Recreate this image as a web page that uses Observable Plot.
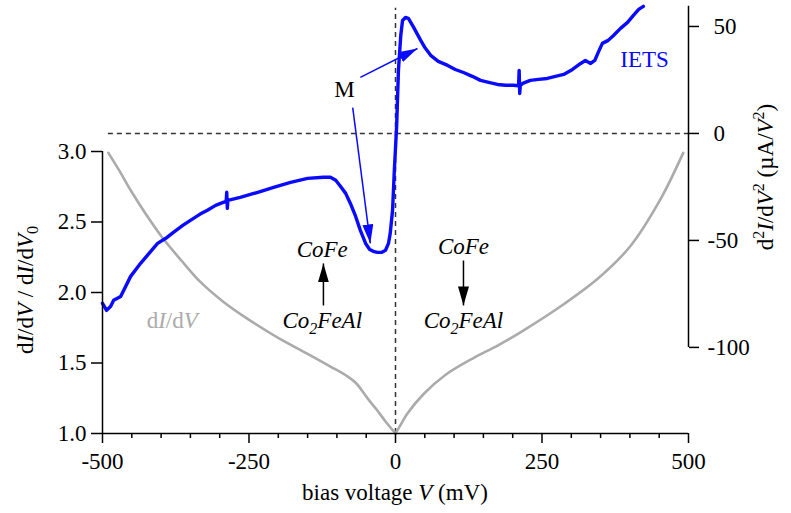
<!DOCTYPE html>
<html>
<head>
<meta charset="utf-8">
<script src="https://cdn.jsdelivr.net/npm/d3@7"></script>
<script src="https://cdn.jsdelivr.net/npm/@observablehq/plot@0.6"></script>
<style>
  body { margin: 0; background: #fff; }
  #chart svg { display: block; }
</style>
</head>
<body>
<div id="chart"></div>
<script>
// Normalised differential conductance dI/dV / dI/dV0 versus bias (mV), split at zero bias
const didvLeftV  = [-490, -470, -452, -425, -398, -365, -333, -294, -253, -201, -150, -111, -82, -68, -60, -45, -31, -17, 0];
const didvLeftG  = [2.99, 2.855, 2.725, 2.55, 2.39, 2.225, 2.075, 1.935, 1.815, 1.68, 1.565, 1.475, 1.405, 1.36, 1.32, 1.235, 1.163, 1.085, 1.0];
const didvRightV = [0, 10, 20, 48, 85, 133, 175, 218, 287, 345, 401, 452, 491];
const didvRightG = [1.0, 1.07, 1.14, 1.28, 1.415, 1.535, 1.625, 1.73, 1.917, 2.097, 2.33, 2.66, 2.99];

// IETS spectrum d²I/dV² (µA/V²) versus bias (mV)
const ietsV = [-500, -493, -486, -481, -469, -452, -435, -422, -406, -392, -379, -363, -350, -334, -321, -307, -294,
  -289, -288, -287, -286, -265, -235, -208, -179, -150, -123, -111, -102, -94, -85, -77, -68, -60, -51, -44, -38,
  -31, -24, -17, -12, -9, -5, -2, 2, 5, 9, 12, 17, 22, 31, 43, 51, 60, 73, 89, 102, 116, 131, 145, 159, 174, 188,
  201, 210, 211, 212, 213, 217, 230, 244, 259, 273, 287, 302, 316, 324, 333, 340, 346, 353, 363, 372, 384, 396,
  406, 415, 423];
const ietsR = [-79.4, -82.7, -80.8, -78.0, -76.2, -66.8, -60.7, -56.5, -51.4, -49.0, -46.2, -43.0, -40.6, -37.8, -35.9, -33.6, -32.2,
  -31.8, -27.5, -35.0, -31.3, -29.9, -27.5, -25.2, -22.9, -21.0, -20.5, -20.5, -21.9, -24.7, -28.0, -32.7, -38.8, -45.3, -51.4, -54.2, -55.1,
  -55.6, -55.6, -54.6, -51.4, -46.7, -35.9, -17.3, 3.8, 29.5, 45.8, 52.8, 54.2, 53.8, 49.6, 43.5, 39.8, 36.5, 33.7, 31.8, 29.9, 28.5, 26.7, 24.8, 23.9, 22.9, 22.5,
  22.5, 22.3, 29.5, 18.7, 22.4, 23.4, 24.8, 25.3, 25.7, 26.7, 27.6, 29.9, 32.7, 34.1, 32.7, 34.1, 37.9, 42.1, 43.5, 45.8, 49.1, 51.9,
  55.2, 58.0, 59.4];

// Tick values
const xMajorTicks = [-500, -250, 0, 250, 500];
const xMinorTicks = d3.range(-500, 501, 50).filter(v => v % 250 !== 0);
const leftTicks = [1.0, 1.5, 2.0, 2.5, 3.0];
const rightTicks = [50, 0, -50, -100];

// Right axis (µA/V²) drawn against the left scale: zero of d²I/dV² sits at 3.128 on the left axis
const rightZeroAt = 3.128;
const rightPerLeft = 65.9;
const toLeft = r => rightZeroAt + r / rightPerLeft;

const didv = [
  ...didvLeftV.map((v, i) => ({V: v, g: didvLeftG[i], side: "neg"})),
  ...didvRightV.map((v, i) => ({V: v, g: didvRightG[i], side: "pos"}))
];
const iets = ietsV.map((v, i) => ({V: v, r: ietsR[i]}));

// Arrows pointing at the IETS features (bias mV, d²I/dV² µA/V²)
const mArrows = [
  {V1: -60, r1: 26.2, V2: 37.5, r2: 39.7},
  {V1: -73, r1: 12.1, V2: -43, r2: -51.4}
];
// Magnetisation arrows (bias mV, normalised conductance)
const magArrows = [
  {V1: -123, g1: 1.908, V2: -123, g2: 2.206},
  {V1: 116, g1: 2.227, V2: 116, g2: 1.908}
];

const blue = "#0a0aff";
const grey = "#ababab";

function filledHead(color) {
  return d3.create("svg:marker")
    .attr("viewBox", "-19 -5.5 19 11")
    .attr("markerUnits", "userSpaceOnUse")
    .attr("markerWidth", 19)
    .attr("markerHeight", 11)
    .attr("orient", "auto")
    .attr("fill", color)
    .attr("stroke", "none")
    .call(m => m.append("path").attr("d", "M0,0L-19,-5.5L-19,5.5Z"))
    .node();
}

const chart = Plot.plot({
  width: 791,
  height: 513,
  marginLeft: 102,
  marginRight: 103,
  marginTop: 151,
  marginBottom: 80,
  style: {fontFamily: "'Liberation Serif', 'Times New Roman', serif", fontSize: "23px", color: "black", background: "white", overflow: "visible"},
  x: {domain: [-500, 500]},
  y: {domain: [1, 3]},
  marks: [
    // zero lines
    Plot.ruleY([0], {y: d => toLeft(d), x1: -490, x2: 500, stroke: "#333", strokeWidth: 1.5, strokeDasharray: "5,4"}),
    Plot.ruleX([0], {y1: 1, y2: toLeft(58.5), stroke: "#333", strokeWidth: 1.5, strokeDasharray: "5,4"}),
    // dI/dV
    Plot.line(didv, {x: "V", y: "g", z: "side", stroke: grey, strokeWidth: 2.6, curve: "catmull-rom"}),
    // IETS
    Plot.line(iets, {x: "V", y: d => toLeft(d.r), stroke: blue, strokeWidth: 3.4, strokeLinejoin: "round"}),
    // annotation arrows
    Plot.link(mArrows, {x1: "V1", y1: d => toLeft(d.r1), x2: "V2", y2: d => toLeft(d.r2), stroke: blue, strokeWidth: 1.5, markerEnd: filledHead}),
    Plot.link(magArrows, {x1: "V1", y1: "g1", x2: "V2", y2: "g2", stroke: "black", strokeWidth: 1.5, markerEnd: filledHead}),
    // labels
    Plot.text(["IETS"], {x: () => 425, y: () => toLeft(34.6), fill: blue}),
    Plot.text(["M"], {x: () => -87, y: () => toLeft(20.6), fill: "black"}),
    Plot.text(["CoFe", "CoFe"], {x: [-125, 116], y: [2.305, 2.326], fontStyle: "italic", fill: "black"}),
    Plot.text(["Co2FeAl", "Co2FeAl"], {x: [-125, 116], y: [1.80, 1.80], fontStyle: "italic", fill: "black"}),
    Plot.text(["dI/dV"], {x: () => -381, y: () => 1.80, fill: grey}),
    // axes
    Plot.ruleY([1], {stroke: "black", strokeWidth: 1.5}),
    Plot.ruleX([-500], {y1: 1, y2: 3, stroke: "black", strokeWidth: 1.5}),
    Plot.ruleX([500], {y1: toLeft(-100), y2: toLeft(59.5), stroke: "black", strokeWidth: 1.5}),
    Plot.axisX({ticks: xMajorTicks, tickSize: 10, tickPadding: 9, tickFormat: d => String(d), strokeWidth: 1.5, label: null}),
    Plot.axisX({ticks: xMinorTicks, tickSize: 5, tickFormat: () => "", strokeWidth: 1.5, label: null}),
    Plot.axisY({ticks: leftTicks, tickSize: 11, tickPadding: 5, tickFormat: d3.format(".1f"), strokeWidth: 1.5, label: null}),
    Plot.axisY({anchor: "right", ticks: rightTicks.map(toLeft), tickSize: 10, tickFormat: () => "", strokeWidth: 1.5, label: null}),
    Plot.text(rightTicks.filter(d => d < 0), {x: () => 500, y: d => toLeft(d), text: d => String(d), textAnchor: "start", dx: 19}),
    Plot.text(rightTicks.filter(d => d >= 0), {x: () => 500, y: d => toLeft(d), text: d => String(d), textAnchor: "start", dx: 25})
  ]
});

document.getElementById("chart").appendChild(chart);

const svg = d3.select(chart);

// mixed-style text: italics, subscripts and superscripts
function rich(sel, parts) {
  sel.text(null);
  for (const p of parts) {
    const ts = sel.append("tspan").text(p.t);
    if (p.i) ts.attr("font-style", "italic");
    if (p.dy) ts.attr("dy", p.dy);
    if (p.s) ts.attr("font-size", p.s);
  }
}

svg.selectAll("text").each(function() {
  const t = d3.select(this);
  const s = t.text();
  if (s === "Co2FeAl") rich(t, [{t: "Co"}, {t: "2", dy: 6, s: "16px"}, {t: "FeAl", dy: -6}]);
  else if (s === "dI/dV") rich(t, [{t: "d"}, {t: "I", i: true}, {t: "/d"}, {t: "V", i: true}]);
});

// axis titles
const xTitle = svg.append("text")
  .attr("x", 395).attr("y", 500)
  .attr("text-anchor", "middle").attr("fill", "black");
rich(xTitle, [{t: "bias voltage "}, {t: "V", i: true}, {t: " (mV)"}]);

const leftTitle = svg.append("text")
  .attr("transform", "translate(33,290) rotate(-90)")
  .attr("text-anchor", "middle").attr("fill", "black");
rich(leftTitle, [{t: "d"}, {t: "I", i: true}, {t: "/d"}, {t: "V", i: true}, {t: " / d"}, {t: "I", i: true}, {t: "/d"}, {t: "V", i: true}, {t: "0", dy: 5, s: "16px"}]);

const rightTitle = svg.append("text")
  .attr("transform", "translate(773,177) rotate(-90)")
  .attr("text-anchor", "middle").attr("fill", "black");
rich(rightTitle, [{t: "d"}, {t: "2", dy: -9, s: "16px"}, {t: "I", i: true, dy: 9}, {t: "/d"}, {t: "V", i: true}, {t: "2", dy: -9, s: "16px"}, {t: " (µA/", dy: 9}, {t: "V", i: true}, {t: "2", dy: -9, s: "16px"}, {t: ")", dy: 9}]);
</script>
</body>
</html>
